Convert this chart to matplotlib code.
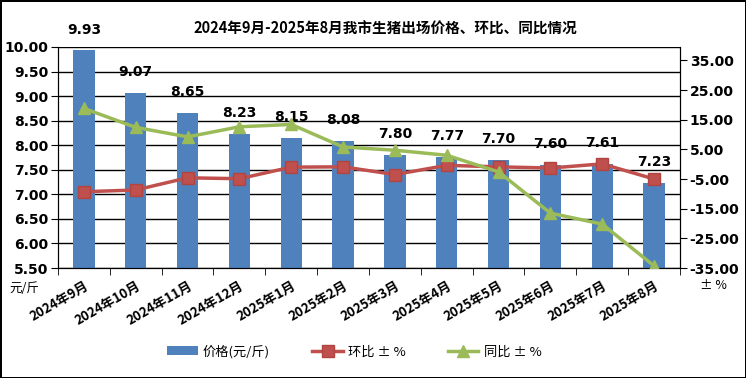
import numpy as np
import matplotlib.pyplot as plt

plt.rcParams['font.family'] = ['DejaVu Sans', 'Noto Sans CJK SC']

months = ['2024年9月', '2024年10月', '2024年11月', '2024年12月', '2025年1月', '2025年2月',
          '2025年3月', '2025年4月', '2025年5月', '2025年6月', '2025年7月', '2025年8月']
price = [9.93, 9.07, 8.65, 8.23, 8.15, 8.08, 7.80, 7.77, 7.70, 7.60, 7.61, 7.23]
mom = [-9.3, -8.7, -4.6, -4.9, -1.0, -0.9, -3.5, -0.4, -0.9, -1.3, 0.1, -5.0]
yoy = [18.8, 12.4, 9.2, 12.6, 13.4, 5.8, 4.7, 3.0, -2.6, -16.5, -20.2, -34.3]

blue = '#4F81BD'
red = '#C0504D'
green = '#9BBB59'
cjk = ['Noto Sans CJK SC', 'DejaVu Sans']

fig = plt.figure(figsize=(7.46, 3.78), dpi=100, edgecolor='black', linewidth=2)
ax = fig.add_axes([0.0777, 0.291, 0.8338, 0.5847])
x = np.arange(len(months))

bars = ax.bar(x, price, width=0.41, color=blue, zorder=2)
ax.set_ylim(5.5, 10.0)
ax.set_yticks(np.arange(5.5, 10.01, 0.5))
ax.set_yticklabels(['%.2f' % v for v in np.arange(5.5, 10.01, 0.5)], fontweight='bold', fontsize=10)
ax.yaxis.grid(True, color='black', linewidth=1, zorder=0)
ax.set_axisbelow(True)
ax.set_xlim(-0.5, len(months) - 0.5)

# price labels above the bars
for xi, p in zip(x, price):
    ax.annotate('%.2f' % p, (xi, p), xytext=(0, 10), textcoords='offset points',
                ha='center', va='bottom', fontsize=10, fontweight='bold')

ax.set_xticks(x)
ax.set_xticklabels(months, rotation=30, ha='right', rotation_mode='anchor',
                   family=cjk, fontweight='bold', fontsize=9.5)
ax.tick_params(axis='x', which='major', length=0, pad=8)
ax.set_xticks(np.arange(-0.5, len(months), 1), minor=True)
ax.tick_params(axis='x', which='minor', length=5, color='black')
ax.tick_params(axis='y', length=5, pad=2)
ax.spines['top'].set_visible(False)

ax2 = ax.twinx()
l1, = ax2.plot(x, mom, color=red, linewidth=2.5, marker='s', markersize=8,
               markerfacecolor=red, markeredgecolor='#B04440', zorder=3)
l2, = ax2.plot(x, yoy, color=green, linewidth=2.5, marker='^', markersize=9,
               markerfacecolor=green, markeredgecolor=green, zorder=3)
ax2.set_ylim(-35, 39.5)
rt = np.arange(-35, 36, 10)
ax2.set_yticks(rt)
ax2.set_yticklabels(['%.2f' % v for v in rt], fontweight='bold', fontsize=10)
ax2.tick_params(axis='y', length=5, pad=2)
ax2.spines['top'].set_visible(False)

fig.text(0.516, 0.925, '2024年9月-2025年8月我市生猪出场价格、环比、同比情况',
         ha='center', va='center', family=cjk, fontsize=10.5, fontweight='bold')
fig.text(0.013, 0.238, '元/斤', family=cjk, fontsize=9, ha='left', va='center')
fig.text(0.938, 0.245, '± %', family=cjk, fontsize=9, ha='left', va='center')

fig.legend([bars, l1, l2], ['价格(元/斤)', '环比 ± %', '同比 ± %'],
           loc='center', bbox_to_anchor=(0.475, 0.07), ncol=3, frameon=False,
           prop={'family': cjk, 'size': 9.5}, columnspacing=3.2, handlelength=2.3,
           handletextpad=0.4)

fig.savefig('out.png', dpi=100)
